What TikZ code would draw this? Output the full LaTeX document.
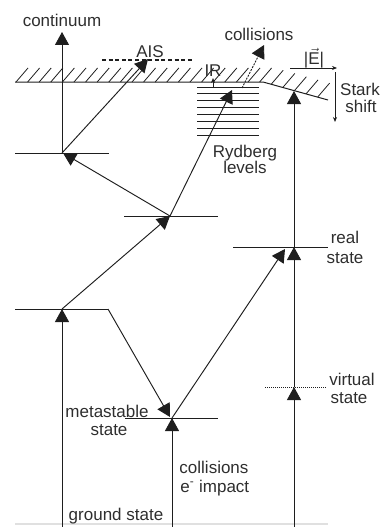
\documentclass[tikz,border=0pt]{standalone}
\usepackage{fontspec}
\setmainfont{Liberation Sans}
\usetikzlibrary{arrows.meta}
\definecolor{ink}{HTML}{1E1E1E}
\definecolor{txt}{HTML}{2E2E2E}
\begin{document}
\begin{tikzpicture}[x=1pt,y=-1pt,line width=0.95pt,draw=ink,
  lbl/.style={font=\fontsize{17}{17}\selectfont,text=txt,inner sep=0pt,anchor=base},
  lblw/.style={lbl,anchor=base west},
  level/.style={draw=ink,line width=0.9pt},
  arr/.style={draw=ink,-{Triangle[length=13pt,width=14pt]}},
  smallarr/.style={draw=ink,line width=0.7pt,-{Stealth[length=5pt,width=4pt]}},
  hatch/.style={draw=ink,line width=0.8pt}]
\useasboundingbox (0,0) rectangle (381,527);

% faint base line
\draw[black!12,line width=1.6pt] (15,524) -- (328,524);

% named points of the scheme
\coordinate (gA) at (62,527);
\coordinate (gB) at (172,527);
\coordinate (gC) at (294,527);
\coordinate (e1) at (62,309);
\coordinate (e1r) at (108,309);
\coordinate (e2) at (170,216);
\coordinate (e3) at (62,153);
\coordinate (e3in) at (63,153);
\coordinate (cont) at (62,32);
\coordinate (ais) at (148,59);
\coordinate (ryd) at (232,90);
\coordinate (meta) at (172,418);
\coordinate (metain) at (170,417);
\coordinate (virt) at (294,387);
\coordinate (real) at (294,247);
\coordinate (realin) at (285,249);
\coordinate (stark) at (294,91);
\coordinate (colA) at (242,88);
\coordinate (colB) at (264,45);
\coordinate (irA) at (213,88);
\coordinate (irB) at (213,78);
\coordinate (fieldA) at (290,68);
\coordinate (fieldB) at (337,68);
\coordinate (shiftA) at (335,72);
\coordinate (shiftB) at (335,122);

% energy levels
\draw[level] (15,153) -- (109,153);
\draw[level] (124,216) -- (218,216);
\draw[level] (15,309) -- (e1r);
\draw[level] (125,418) -- (218,418);
\draw[level] (233,247) -- (328,247);
\draw[draw=ink,line width=0.8pt,dash pattern=on 1pt off 1pt] (265,387) -- (327,387);

% Rydberg levels
\foreach \yy in {87,93.5,100,107,114,121,128,135}
  \draw[draw=ink,line width=0.8pt] (197,\yy) -- (259,\yy);

% ionisation limit with Stark-lowered part and hatching
\draw[draw=ink,line width=1pt] (15,82) -- (263,82) -- (328,100);
\foreach \k in {0,...,26}{
  \pgfmathsetmacro{\hx}{16+11.6*\k}
  \pgfmathsetmacro{\hy}{\hx<263 ? 82 : 82+(\hx-263)*18/65}
  \draw[hatch] (\hx,\hy) -- ++(12,-14);
}

% autoionising state
\draw[draw=ink,line width=1.3pt,dash pattern=on 4pt off 2.6pt] (102,60) -- (193,60);

% excitation paths
\draw[arr] (gA) -- (e1);
\draw[arr] (gB) -- (meta);
\draw[arr] (gC) -- (virt);
\draw[arr] (virt) -- (real);
\draw[arr] (real) -- (stark);
\draw[arr] (e1) -- (e2);
\draw[arr] (e2) -- (e3in);
\draw[arr] (e2) -- (ryd);
\draw[arr] (e3) -- (cont);
\draw[arr] (e3) -- (ais);
\draw[arr] (e1r) -- (metain);
\draw[arr] (meta) -- (realin);
\draw[draw=ink,line width=0.9pt,dash pattern=on 2pt off 1.2pt,-{Triangle[length=13pt,width=14pt]}] (colA) -- (colB);
\draw[smallarr] (irA) -- (irB);
\draw[smallarr] (fieldA) -- (fieldB);
\draw[smallarr] (shiftA) -- (shiftB);

% labels
\node[lbl] (tcont) at (62,27) {continuum};
\node[lbl] (tais) at (150,57) {AIS};
\node[lbl] (tcol) at (259,41) {collisions};
\node[lbl] (tir) at (213,77) {IR};
\node[lbl] (tfield) at (314,65) {|$\vec{\mbox{E}}$|};
\node[lbl] (tstark1) at (360,95) {Stark};
\node[lbl] (tstark2) at (361,112) {shift};
\node[lbl] (tryd1) at (245,157) {Rydberg};
\node[lbl] (tryd2) at (245,173) {levels};
\node[lbl] (treal1) at (345,243) {real};
\node[lbl] (treal2) at (345,263) {state};
\node[lbl] (tvirt1) at (352,385) {virtual};
\node[lbl] (tvirt2) at (349,403) {state};
\node[lbl] (tmeta1) at (107,417) {metastable};
\node[lbl] (tmeta2) at (109,435) {state};
\node[lblw] (tcoll1) at (179,473) {collisions};
\node[lblw] (tcoll2) at (180,492) {e\textsuperscript{-} impact};
\node[lbl] (tground) at (116,520) {ground state};
\end{tikzpicture}
\end{document}
